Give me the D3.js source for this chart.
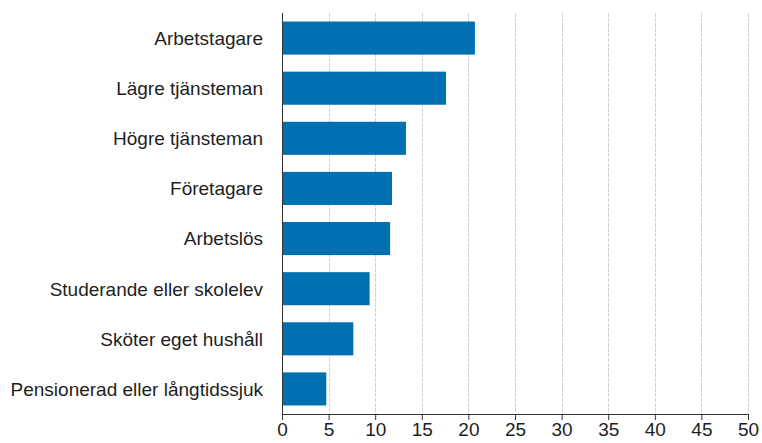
<html>
<head>
<script src="https://d3js.org/d3.v7.min.js"></script>
<style>
  body { margin: 0; background: #fff; }
  svg { display: block; }
  .lbl text { font-family: "Liberation Sans", Arial, sans-serif; font-size: 19px; fill: #1e1e1e; }
  .grid line { stroke: #d2d2d2; stroke-dasharray: 4,1; }
</style>
</head>
<body>
<script>
// categories and values (per cent)
var categories = ["Arbetstagare", "Lägre tjänsteman", "Högre tjänsteman", "Företagare",
                  "Arbetslös", "Studerande eller skolelev", "Sköter eget hushåll",
                  "Pensionerad eller långtidssjuk"];
var values = [20.7, 17.6, 13.3, 11.8, 11.6, 9.4, 7.65, 4.75];
var xTicks = [0, 5, 10, 15, 20, 25, 30, 35, 40, 45, 50];

var W = 762, H = 443;
var margin = { left: 282, right: 14, top: 13, bottom: 29 };
var iw = W - margin.left - margin.right, ih = H - margin.top - margin.bottom;

var svg = d3.select("body").append("svg").attr("width", W).attr("height", H);
var g = svg.append("g").attr("transform", "translate(" + margin.left + "," + margin.top + ")");

var x = d3.scaleLinear().domain([0, 50]).range([0, iw]);
var y = d3.scaleBand().domain(categories).range([0, ih]).paddingInner(0.34).paddingOuter(0.17);

// gridlines
g.append("g").attr("class", "grid")
  .selectAll("line").data(xTicks.filter(function(d){ return d > 0; }))
  .enter().append("line")
  .attr("x1", function(d){ return Math.round(x(d)) + 0.5; })
  .attr("x2", function(d){ return Math.round(x(d)) + 0.5; })
  .attr("y1", 0).attr("y2", ih);

// bars
g.selectAll(".bar").data(values).enter().append("rect")
  .attr("class", "bar")
  .attr("x", x(0))
  .attr("y", function(d, i){ return y(categories[i]); })
  .attr("width", function(d){ return x(d) - x(0); })
  .attr("height", y.bandwidth())
  .attr("fill", "#0070b0");

// left axis (labels only + line)
var yAxis = g.append("g").attr("class", "lbl")
  .call(d3.axisLeft(y).tickSize(0).tickPadding(19));
yAxis.select(".domain").attr("stroke", "#333").attr("d", "M0.5,0V" + ih);
yAxis.selectAll("text").attr("dy", "0.36em");

// bottom axis
var xAxis = g.append("g").attr("class", "lbl")
  .attr("transform", "translate(0," + ih + ")")
  .call(d3.axisBottom(x).tickValues(xTicks).tickSize(6).tickPadding(3));
xAxis.select(".domain").attr("stroke", "#333");
xAxis.selectAll(".tick line").attr("stroke", "#333");
</script>
</body>
</html>
